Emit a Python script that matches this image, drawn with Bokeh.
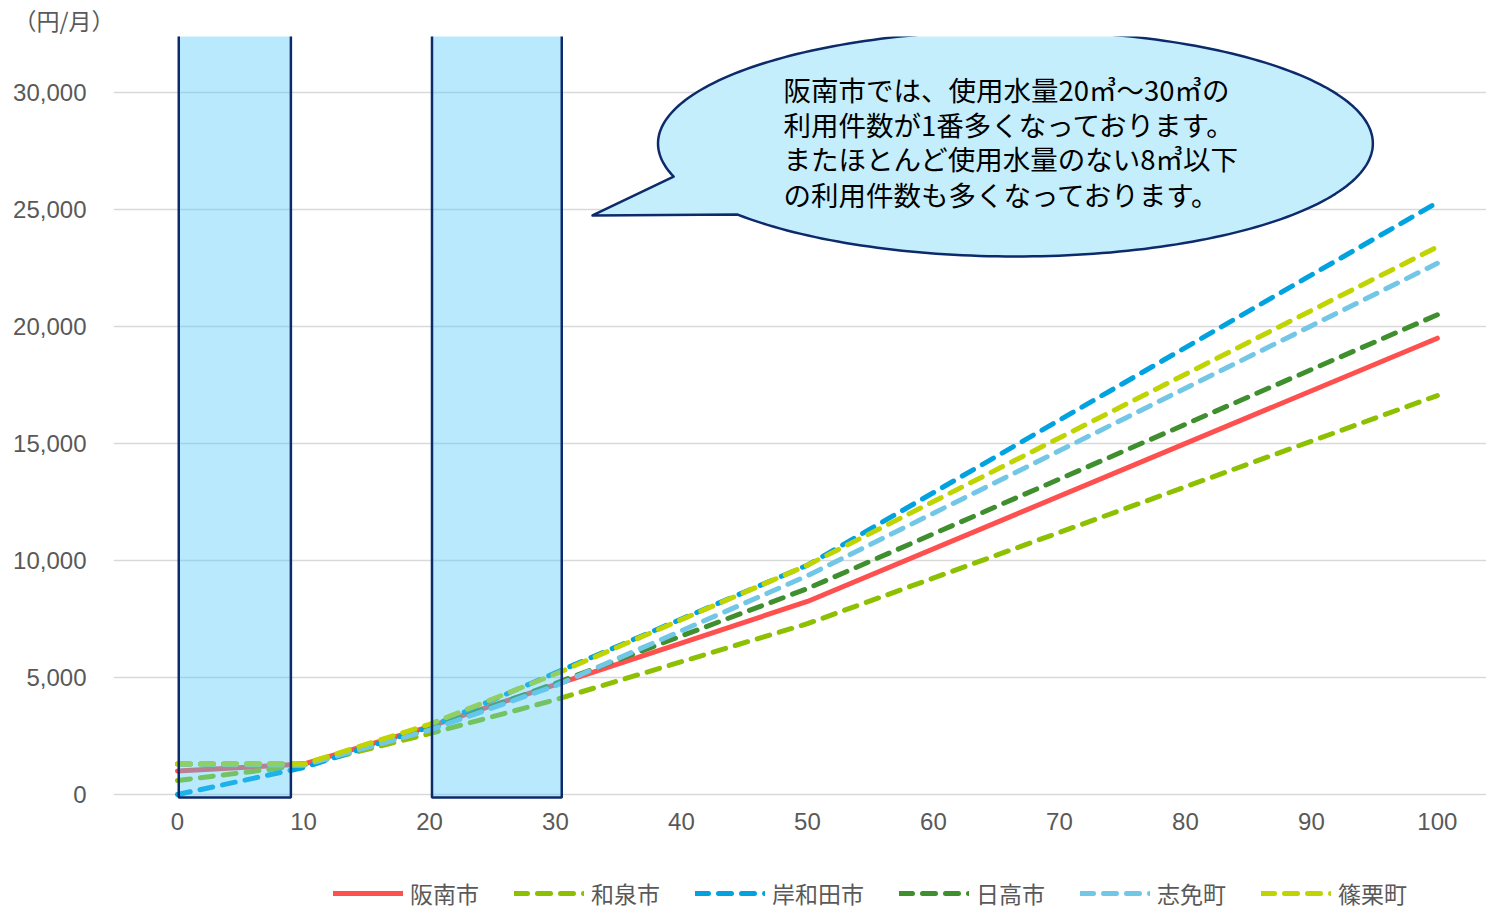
import numpy as np
from bokeh.plotting import figure
from bokeh.layouts import column
from bokeh.models import (Range1d, Legend, LegendItem, Label, NumeralTickFormatter,
                          FixedTicker, Title)
from bokeh.embed import file_html
from bokeh.resources import INLINE

# 使用水量 (㎥) ごとの料金 (円/月)
usage = [0, 10, 20, 30, 50, 100]
hannan = [1000, 1300, 2900, 4700, 8250, 19500]
izumi = [600, 1250, 2600, 4050, 7300, 17050]
kishiwada = [0, 1150, 2880, 5200, 9800, 25300]
hidaka = [1300, 1300, 2800, 4750, 8800, 20500]
shime = [1300, 1250, 2750, 4650, 9350, 22700]
sasaguri = [1300, 1300, 3000, 5150, 9800, 23400]

names = ["阪南市", "和泉市", "岸和田市", "日高市", "志免町", "篠栗町"]
values = [hannan, izumi, kishiwada, hidaka, shime, sasaguri]
colors = ["#FF5050", "#8DC000", "#00A2E0", "#3F8F2F", "#72C7E7", "#BFD400"]
dashes = ["solid", "13 10", "13 10", "13 10", "13 10", "13 10"]

x_ticks = [0, 10, 20, 30, 40, 50, 60, 70, 80, 90, 100]
y_ticks = [0, 5000, 10000, 15000, 20000, 25000, 30000]

# 強調する使用水量の帯 (8㎥以下, 20〜30㎥)
band_left = [0.1, 20.2]
band_right = [9.0, 30.5]
band_bottom = [-130, -130]
band_top = [33000, 33000]

callout_lines = [
    "阪南市では、使用水量20㎥～30㎥の",
    "利用件数が1番多くなっております。",
    "またほとんど使用水量のない8㎥以下",
    "の利用件数も多くなっております。",
]

GRAY = "#595959"
NAVY = "#0D2A6A"
LATIN = "Liberation Sans"
CJK = "Noto Sans CJK JP"

# ---- 本体のグラフ ----
p = figure(width=1486, height=845, output_backend="svg", toolbar_location=None,
           x_range=Range1d(-5.08, 103.9), y_range=Range1d(-470, 32393),
           min_border_left=113, min_border_right=0, min_border_top=0,
           min_border_bottom=40)
p.outline_line_color = None
p.background_fill_color = "white"
p.border_fill_color = "white"

# 単位 (左上)
p.title = Title(text="（円/月）", align="left", offset=-100, standoff=0,
                text_font=CJK, text_font_size="23px", text_font_style="normal",
                text_color=GRAY)

p.xgrid.visible = False
p.ygrid.ticker = FixedTicker(ticks=y_ticks)
p.ygrid.grid_line_color = "#D9D9D9"
p.ygrid.grid_line_width = 1.6

for ax in (p.xaxis[0], p.yaxis[0]):
    ax.axis_line_color = None
    ax.major_tick_line_color = None
    ax.minor_tick_line_color = None
    ax.major_tick_out = 0
    ax.major_tick_in = 0
    ax.minor_tick_out = 0
    ax.major_label_text_font = LATIN
    ax.major_label_text_font_size = "24px"
    ax.major_label_text_color = GRAY

p.xaxis.ticker = FixedTicker(ticks=x_ticks)
p.xaxis.major_label_standoff = 7
p.yaxis.ticker = FixedTicker(ticks=y_ticks)
p.yaxis.formatter = NumeralTickFormatter(format="0,0")
p.yaxis.major_label_standoff = 27

# 料金の折れ線
for vals, col, dash in zip(values, colors, dashes):
    p.line(usage, vals, line_color=col, line_width=5,
           line_dash=dash, line_cap="round", line_join="round")

# 半透明の強調帯
p.quad(left=band_left, right=band_right, bottom=band_bottom, top=band_top,
       fill_color="#4DC8F7", fill_alpha=0.4, line_color=NAVY, line_width=2.5)

# 吹き出し (楕円 + しっぽ)
cx, cy, rx, ry = 66.51, 27821, 28.37, 4829
tip_x, tip_y = 32.94, 24744
t = np.radians(np.linspace(163, 501, 240))
bx = list(cx + rx * np.cos(t)) + [tip_x]
by = list(cy - ry * np.sin(t)) + [tip_y]
p.patch(bx, by, fill_color="#C5EEFC", line_color=NAVY, line_width=2.5,
        line_join="round")

line_y = [30170, 28675, 27180, 25680]
for txt, ly in zip(callout_lines, line_y):
    p.add_layout(Label(x=48.1, y=ly, text=txt, text_font=CJK, text_font_size="27.5px",
                       text_baseline="middle", text_align="left", text_color="black"))

# ---- 凡例 (下段) ----
# 凡例用の線は表示範囲外に置き、凡例の見本だけを描く
p2 = figure(width=1486, height=65, output_backend="svg", toolbar_location=None,
            x_range=Range1d(1000, 1001), y_range=Range1d(-1e9, -1e9 + 1),
            x_axis_type=None, y_axis_type=None, min_border=0, title=None)
p2.outline_line_color = None
p2.background_fill_color = "white"
p2.border_fill_color = "white"

items = []
for name, vals, col, dash in zip(names, values, colors, dashes):
    r = p2.line(usage, vals, line_color=col, line_width=5,
                line_dash=dash, line_cap="round", line_join="round")
    items.append(LegendItem(label=name, renderers=[r]))

legend = Legend(items=items, orientation="horizontal", location=(220, 0),
                glyph_width=70, glyph_height=22, label_standoff=7, spacing=35,
                padding=0, margin=0, border_line_color=None,
                background_fill_alpha=0, label_text_font=CJK,
                label_text_font_size="23px", label_text_color=GRAY)
p2.add_layout(legend, "center")

layout = column(p, p2, spacing=0)
open("out.html", "w").write(file_html(layout, INLINE))
